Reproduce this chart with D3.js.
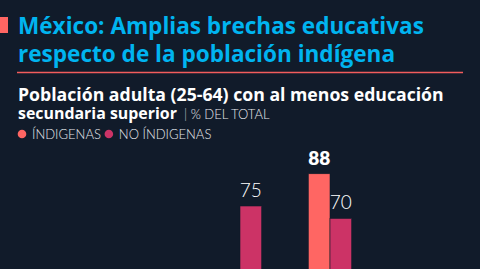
<!DOCTYPE html>
<html>
<head>
<meta charset="utf-8">
<script src="https://cdn.jsdelivr.net/npm/d3@7"></script>
<style>
  html, body { margin: 0; padding: 0; background: #111b2a; }
  svg { display: block; font-family: Lato, "Noto Sans", sans-serif; }
</style>
</head>
<body>
<div id="chart"></div>
<script>
// datos
const groups = ["g1", "g2"];
const seriesKeys = ["indigenas", "noIndigenas"];
const seriesLabels = ["ÍNDIGENAS", "NO ÍNDIGENAS"];
const indigenas = [36, 88];
const noIndigenas = [75, 70];
const highlight = [false, true];

const width = 480;
const height = 269;
const colors = { indigenas: "#ff6663", noIndigenas: "#cc3366" };

const svg = d3.select("#chart").append("svg")
  .attr("width", width)
  .attr("height", height);

svg.append("rect").attr("width", width).attr("height", height).attr("fill", "#111b2a");

// ajusta el tamaño de letra a un ancho dado
function fit(sel, target) {
  const size = +sel.attr("font-size");
  const w = sel.node().getComputedTextLength();
  sel.attr("font-size", (size * target / w).toFixed(2));
}

// cabecera
svg.append("rect").attr("x", 0).attr("y", 17).attr("width", 8).attr("height", 16).attr("fill", "#ff6663");

const head = "'Open Sans', Lato, sans-serif";
const t1 = svg.append("text").attr("x", 18).attr("y", 34)
  .attr("fill", "#00b4f0").attr("font-family", head).attr("font-size", 22).attr("font-weight", 700)
  .text("México: Amplias brechas educativas");
fit(t1, 406);
svg.append("text").attr("x", 18).attr("y", 62)
  .attr("fill", "#00b4f0").attr("font-family", head).attr("font-size", t1.attr("font-size")).attr("font-weight", 700)
  .text("respecto de la población indígena");

svg.append("line")
  .attr("x1", 17).attr("x2", 463).attr("y1", 72.5).attr("y2", 72.5)
  .attr("stroke", "#f25c5c").attr("stroke-width", 1.6);

const s1 = svg.append("text").attr("x", 18).attr("y", 101)
  .attr("fill", "#ffffff").attr("font-family", head).attr("font-size", 16).attr("font-weight", 700)
  .text("Población adulta (25-64) con al menos educación");
fit(s1, 426);
const s2 = svg.append("text").attr("x", 18).attr("y", 119)
  .attr("fill", "#ffffff").attr("font-family", head).attr("font-size", 15).attr("font-weight", 700)
  .text("secundaria superior");
fit(s2, 159);
const s3 = svg.append("text").attr("x", 184).attr("y", 119)
  .attr("font-weight", 300).attr("font-size", 13);
s3.append("tspan").attr("fill", "#c9ced6").text("| ");
s3.append("tspan").attr("fill", "#e6e8ec").text("% DEL TOTAL");

// leyenda
const legend = svg.append("g").attr("transform", "translate(0,134)");
let lx = 22;
seriesKeys.forEach((k, i) => {
  legend.append("circle").attr("cx", lx).attr("cy", 0).attr("r", 4.3).attr("fill", colors[k]);
  const t = legend.append("text")
    .attr("x", lx + 10).attr("y", 4.6)
    .attr("fill", "#e6e8ec").attr("font-size", 13).attr("font-weight", 300)
    .text(seriesLabels[i]);
  lx += 10 + t.node().getComputedTextLength() + 8;
});

// escalas
const x0 = d3.scaleBand().domain(groups).range([195, 375]).paddingInner(0.5178).paddingOuter(0.2589);
const x1 = d3.scaleBand().domain(seriesKeys).range([0, x0.bandwidth()]);
const y = d3.scaleLinear().domain([0, 100]).range([392, 144]);

const rows = groups.map((g, i) => ({ group: g, indigenas: indigenas[i], noIndigenas: noIndigenas[i], hl: highlight[i] }));

const gGroup = svg.selectAll(".grp").data(rows).join("g")
  .attr("class", "grp")
  .attr("transform", d => `translate(${x0(d.group)},0)`);

const bars = gGroup.selectAll("g.bar")
  .data(d => seriesKeys.map(k => ({ key: k, value: d[k], hl: d.hl && k === "indigenas" })))
  .join("g").attr("class", "bar");

bars.append("rect")
  .attr("x", d => x1(d.key))
  .attr("width", x1.bandwidth())
  .attr("y", d => y(d.value))
  .attr("height", d => y(0) - y(d.value))
  .attr("fill", d => colors[d.key])
  .attr("stroke", "#111b2a").attr("stroke-width", 0.6);

// etiquetas de valor (solo las que caen dentro del lienzo)
bars.filter(d => y(d.value) - 9 < height)
  .append("text")
  .attr("x", d => x1(d.key) + x1.bandwidth() / 2)
  .attr("y", d => y(d.value) - 9)
  .attr("text-anchor", "middle")
  .attr("fill", "#ffffff")
  .attr("font-size", 19)
  .attr("font-weight", d => d.hl ? 800 : 300)
  .text(d => d.value);
</script>
</body>
</html>
